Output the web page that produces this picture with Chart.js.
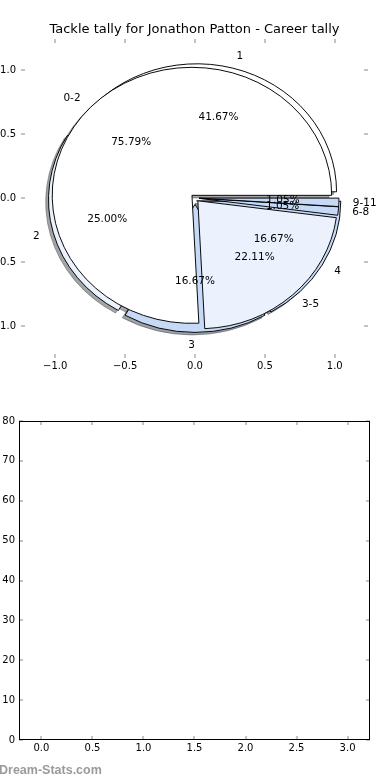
<!DOCTYPE html>
<html>
<head>
<meta charset="utf-8">
<title>Tackle tally for Jonathon Patton</title>
<script src="https://cdn.jsdelivr.net/npm/chart.js@4.4.1/dist/chart.umd.min.js"></script>
<style>
  html, body { margin: 0; padding: 0; background: #fff; }
  body { position: relative; width: 390px; height: 780px; overflow: hidden; }
  canvas { position: absolute; left: 0; }
  #pie-axes, #pie { top: 0; }
  #pie { pointer-events: none; }
  #games { top: 380px; }
  .watermark {
    position: absolute; left: -1px; top: 763px;
    font: bold 12.5px 'Liberation Sans', sans-serif; line-height: 14px;
    color: #9a9a9a;
  }
</style>
</head>
<body>
<canvas id="pie-axes" width="390" height="380"></canvas>
<canvas id="pie" width="390" height="380"></canvas>
<canvas id="games" width="390" height="400"></canvas>
<div class="watermark">Dream-Stats.com</div>
<script>
// games per tackle count, and per tackle range
const tackleLabels = ['1', '2', '3', '4'];
const tackleGames = [5, 3, 2, 2];
const rangeLabels = ['0-2', '3-5', '6-8', '9-11'];
const rangeGames = [72, 21, 1, 1];

const pieTicks = [-1, -0.5, 0, 0.5, 1];
const gameXTicks = [0, 0.5, 1, 1.5, 2, 2.5, 3];
const gameYTicks = [0, 10, 20, 30, 40, 50, 60, 70, 80];
const gameCounts = []; // nothing is plotted on the lower axes

const WHITE = '#ffffff', PALE = '#ebf2fd', LIGHT = '#c6daf8';
const rangeColors = [WHITE, PALE, LIGHT, LIGHT];
const tackleColors = [WHITE, PALE, LIGHT, LIGHT];
const explode = [0.03, 0.05]; // ranges pie (on top), tackles pie (below)
const pieNames = [rangeLabels, tackleLabels];
const SHADOW = 0.02;

Chart.defaults.font.family = "'DejaVu Sans', sans-serif";
Chart.defaults.font.size = 10;
Chart.defaults.color = '#000';

const fmt = (v) => v.toFixed(1).replace('-', '\u2212');

function shade(hex) {
  const n = parseInt(hex.slice(1), 16);
  const r = Math.round(((n >> 16) & 255) * 0.3);
  const g = Math.round(((n >> 8) & 255) * 0.3);
  const b = Math.round((n & 255) * 0.3);
  return `rgba(${r},${g},${b},0.5)`;
}

// matplotlib style ticks, pointing into the axes
const innerTicks = {
  id: 'innerTicks',
  afterDraw(chart, args, opts) {
    const { ctx, chartArea: a, scales: { x, y } } = chart;
    const len = opts.length;
    ctx.save();
    ctx.strokeStyle = opts.color;
    ctx.lineWidth = 1;
    ctx.beginPath();
    x.ticks.forEach((t) => {
      const px = Math.round(x.getPixelForValue(t.value));
      ctx.moveTo(px, a.top); ctx.lineTo(px, a.top + len);
      ctx.moveTo(px, a.bottom); ctx.lineTo(px, a.bottom - len);
    });
    y.ticks.forEach((t) => {
      const py = Math.round(y.getPixelForValue(t.value));
      ctx.moveTo(a.left, py); ctx.lineTo(a.left + len, py);
      ctx.moveTo(a.right, py); ctx.lineTo(a.right - len, py);
    });
    ctx.stroke();
    if (opts.frame) {
      ctx.strokeStyle = '#000';
      ctx.strokeRect(Math.round(a.left) + 0.5, Math.round(a.top) + 0.5,
        Math.round(a.width) - 1, Math.round(a.height) - 1);
    }
    ctx.restore();
  }
};

const axesChart = new Chart(document.getElementById('pie-axes'), {
  type: 'scatter',
  data: { datasets: [] },
  options: {
    responsive: false,
    animation: false,
    events: [],
    layout: { padding: { right: 22 } },
    plugins: {
      legend: { display: false },
      tooltip: { enabled: false },
      title: {
        display: true,
        fullSize: false,
        text: 'Tackle tally for Jonathon Patton - Career tally',
        font: { size: 13, weight: 'normal' },
        color: '#000',
        padding: { top: 21.6, bottom: 1.8 }
      },
      innerTicks: { color: '#888', length: 4, frame: false }
    },
    scales: {
      x: {
        type: 'linear', min: -1.245, max: 1.238,
        grid: { display: false, drawTicks: false },
        border: { display: false },
        ticks: { padding: 2, callback: fmt },
        afterBuildTicks: (s) => { s.ticks = pieTicks.map((v) => ({ value: v })); },
        afterFit: (s) => { s.height = 22; }
      },
      y: {
        type: 'linear', min: -1.25, max: 1.242,
        grid: { display: false, drawTicks: false },
        border: { display: false },
        ticks: { padding: 5, callback: fmt },
        afterBuildTicks: (s) => { s.ticks = pieTicks.map((v) => ({ value: v })); },
        afterFit: (s) => { s.width = 21; }
      }
    }
  },
  plugins: [innerTicks]
});

function drawPieTexts(chart) {
  const { ctx } = chart;
  const { x, y } = axesChart.scales;
  ctx.save();
  ctx.font = "10.5px 'DejaVu Sans'";
  ctx.fillStyle = '#000';
  ctx.textBaseline = 'middle';
  [1, 0].forEach((i) => {
    const ds = chart.data.datasets[i];
    const total = ds.data.reduce((s, v) => s + v, 0);
    const e = explode[i];
    chart.getDatasetMeta(i).data.forEach((arc, j) => {
      const mid = (arc.startAngle + arc.endAngle) / 2;
      const c = Math.cos(mid), s = Math.sin(mid);
      ctx.textAlign = c > 1e-9 ? 'left' : 'right';
      ctx.fillText(pieNames[i][j], x.getPixelForValue((1.1 + e) * c), y.getPixelForValue((1.1 + e) * s));
      ctx.textAlign = 'center';
      ctx.fillText((100 * ds.data[j] / total).toFixed(2) + '%',
        x.getPixelForValue((0.6 + e) * c), y.getPixelForValue((0.6 + e) * s));
    });
  });
  ctx.restore();
}

// lays both pies over the same unit circle of the axes above, exploded and shadowed
const mplPie = {
  id: 'mplPie',
  afterDatasetsUpdate(chart) {
    const { x } = axesChart.scales;
    const r = x.getPixelForValue(1) - x.getPixelForValue(0);
    const a = chart.chartArea;
    const ox = (a.left + a.right) / 2, oy = (a.top + a.bottom) / 2;
    chart.data.datasets.forEach((ds, i) => {
      chart.getDatasetMeta(i).data.forEach((arc) => {
        const mid = (arc.startAngle + arc.endAngle) / 2;
        arc.x = ox + explode[i] * r * Math.cos(mid);
        arc.y = oy + explode[i] * r * Math.sin(mid);
        arc.innerRadius = 0;
        arc.outerRadius = r;
      });
    });
  },
  beforeDatasetsDraw(chart) {
    const { ctx, chartArea: a } = chart;
    const { x, y } = axesChart.scales;
    const cx = x.getPixelForValue(0), cy = y.getPixelForValue(0);
    const rx = x.getPixelForValue(1) - cx, ry = cy - y.getPixelForValue(1);
    ctx.save();
    ctx.translate(cx, cy);
    ctx.scale(1, -ry / rx);
    ctx.translate(-(a.left + a.right) / 2, -(a.top + a.bottom) / 2);
    ctx.lineWidth = 1;
    chart.data.datasets.forEach((ds, i) => {
      chart.getDatasetMeta(i).data.forEach((arc, j) => {
        const sx = arc.x - SHADOW * rx, sy = arc.y - SHADOW * rx;
        ctx.fillStyle = ctx.strokeStyle = shade(ds.backgroundColor[j]);
        ctx.beginPath();
        ctx.moveTo(sx, sy);
        ctx.arc(sx, sy, arc.outerRadius, arc.startAngle, arc.endAngle);
        ctx.closePath();
        ctx.fill();
        ctx.stroke();
      });
    });
  },
  afterDatasetsDraw(chart) {
    chart.ctx.restore();
    drawPieTexts(chart);
  }
};

new Chart(document.getElementById('pie'), {
  type: 'pie',
  data: {
    labels: tackleLabels,
    datasets: [
      { data: rangeGames, backgroundColor: rangeColors, clip: false },
      { data: tackleGames, backgroundColor: tackleColors, clip: false }
    ]
  },
  options: {
    responsive: false,
    animation: false,
    events: [],
    rotation: 90,
    elements: { arc: { borderColor: '#000', borderWidth: 1, borderJoinStyle: 'miter' } },
    plugins: { legend: { display: false }, tooltip: { enabled: false } }
  },
  plugins: [mplPie]
});

new Chart(document.getElementById('games'), {
  type: 'scatter',
  data: { datasets: [{ data: gameCounts }] },
  options: {
    responsive: false,
    animation: false,
    events: [],
    layout: { padding: { top: 41, right: 20 } },
    plugins: {
      legend: { display: false },
      tooltip: { enabled: false },
      innerTicks: { color: '#888', length: 4, frame: true }
    },
    scales: {
      x: {
        type: 'linear', min: -0.22, max: 3.22,
        grid: { display: false, drawTicks: false },
        border: { display: false },
        ticks: { padding: 2, callback: (v) => v.toFixed(1) },
        afterBuildTicks: (s) => { s.ticks = gameXTicks.map((v) => ({ value: v })); },
        afterFit: (s) => { s.height = 40; }
      },
      y: {
        type: 'linear', min: 0, max: 80,
        grid: { display: false, drawTicks: false },
        border: { display: false },
        ticks: { padding: 4, callback: (v) => String(v) },
        afterBuildTicks: (s) => { s.ticks = gameYTicks.map((v) => ({ value: v })); },
        afterFit: (s) => { s.width = 19; }
      }
    }
  },
  plugins: [innerTicks]
});
</script>
</body>
</html>
